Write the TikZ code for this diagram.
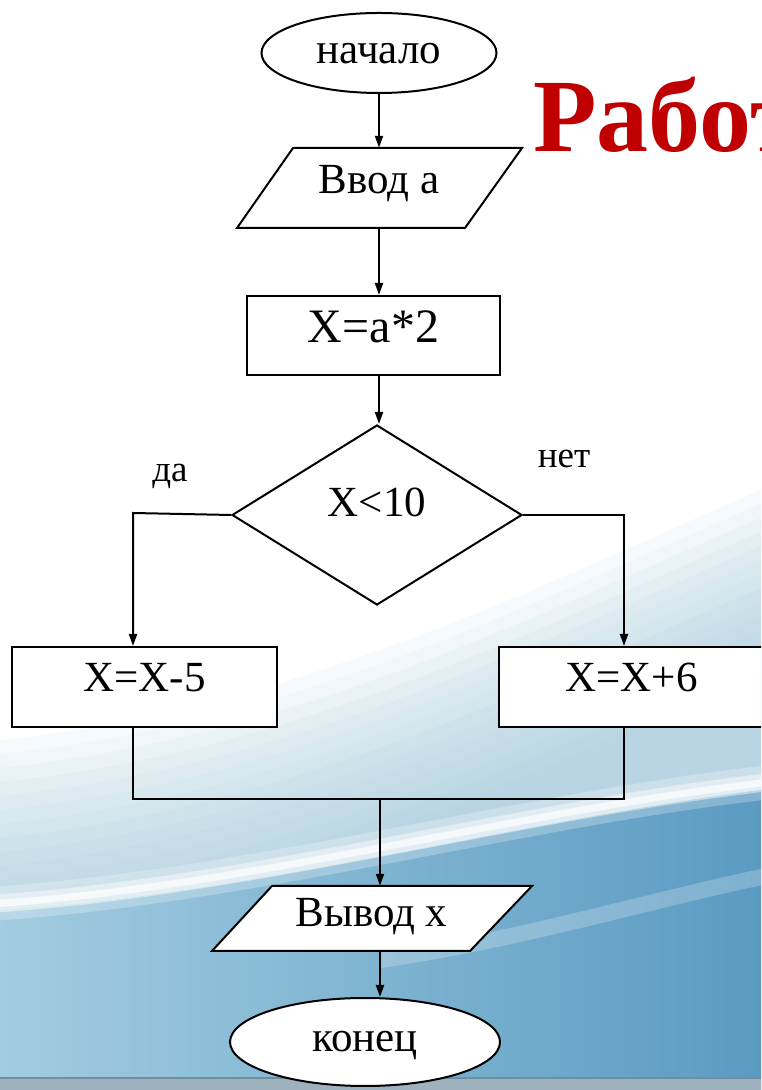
\documentclass[tikz,border=0pt]{standalone}
\usepackage{fontspec}
\setmainfont{Liberation Serif}
\usetikzlibrary{arrows.meta,shapes.geometric}
\definecolor{titlered}{HTML}{C00000}
\definecolor{midblue}{HTML}{9CC6DB}
\definecolor{lblue}{HTML}{A2CCE0}
\definecolor{dblue}{HTML}{5B9BC2}
\definecolor{bandgrey}{HTML}{9DB2BD}
\definecolor{bandline}{HTML}{6F8FA0}
\tikzset{
  line/.style={line width=2pt, draw=black},
  arr/.style={line, -{Triangle[length=12pt,width=8pt]}},
  basel/.style={text height=#1, text depth=0pt},
  txt/.style={font=\fontsize{43}{50}\selectfont, inner sep=0pt},
  rbox/.style={txt, rectangle, draw=black, line width=2pt, fill=white},
  oval/.style={txt, ellipse, draw=black, line width=2pt, fill=white},
  rhomb/.style={txt, diamond, draw=black, line width=2pt, fill=white},
  ghost/.style={txt, rectangle, draw=none, minimum width=200pt},
  para/.style={draw=black, line width=2pt, fill=white, line join=miter},
  lbl/.style={font=\fontsize{37}{44}\selectfont, inner sep=0pt, anchor=base},
}
\begin{document}
\begin{tikzpicture}[x=1pt,y=1pt]
\useasboundingbox (0,0) rectangle (761,1090);
\begin{scope}
\clip (0,0) rectangle (761,1090);
% background
\fill[white] (0,0) rectangle (761,1090);
\foreach \i in {0,...,13}{
  \fill[midblue, opacity=0.075]
    (0,350-\i*14) .. controls (300,380-\i*14) and (550,510-\i*14) .. (761,600-\i*14)
    -- (761,0) -- (0,0) -- cycle;
}
\shade[left color=lblue, right color=dblue]
  (0,180) .. controls (250,195) and (520,270) .. (761,300) -- (761,0) -- (0,0) -- cycle;
\draw[white, line width=34pt, opacity=0.25] (-10,186) .. controls (250,203) and (520,280) .. (771,308);
\draw[white, line width=18pt, opacity=0.45] (-10,186) .. controls (250,203) and (520,280) .. (771,308);
\draw[white, line width=7pt, opacity=0.7] (-10,186) .. controls (250,203) and (520,280) .. (771,308);
\draw[white, line width=16pt, opacity=0.22] (380,130) .. controls (520,150) and (650,190) .. (771,215);
\fill[bandgrey] (0,0) rectangle (761,12);
\draw[bandline, line width=2pt] (0,12) -- (761,12);

% title
\node[anchor=base west, inner sep=0pt, text=titlered,
      font=\fontsize{104}{110}\selectfont\bfseries] (title) at (533,938) {Работ};

% shapes drawn as paths
\draw[para] (293,942) -- (522,942) -- (465,862) -- (237,862) -- cycle;
\draw[para] (272,204) -- (532,204) -- (470,139) -- (212,139) -- cycle;

% nodes
\node[oval, minimum width=235pt, minimum height=80pt, basel=22pt] (start) at (379,1037) {начало};
\node[ghost, minimum height=80pt, basel=12pt] (in) at (379,902) {Ввод а};
\node[rbox, minimum width=253pt, minimum height=79pt, basel=14.5pt,
      font=\fontsize{48}{56}\selectfont] (calc) at (373.5,754.5) {X=a*2};
\node[rhomb, minimum width=290pt, minimum height=180pt, basel=4pt] (dec) at (377,575) {X<10};
\node[rbox, minimum width=265pt, minimum height=80pt, basel=10pt] (lft) at (144.5,403) {X=X-5};
\node[rbox, minimum width=265pt, minimum height=80pt, basel=10pt] (rgt) at (631.5,403) {X=X+6};
\node[ghost, minimum height=65pt, basel=16.5pt] (out) at (371.5,171.5) {Вывод х};
\node[oval, minimum width=270pt, minimum height=88pt, basel=20pt] (end) at (365,48) {конец};

\node[lbl] (yes) at (170,608) {да};
\node[lbl] (no) at (564,622) {нет};

\coordinate (lc) at (133,577);
\coordinate (rc) at (624,575);
\coordinate (m) at (380,291);

% connectors
\draw[arr] (start) -- (in);
\draw[arr] (in.south) -- (in.south |- calc.north);
\draw[arr] (calc.south -| in.south) -- (in.south |- dec.north);
\draw[arr] (dec.west) -- (lc) -- (lc |- lft.north);
\draw[arr] (dec.east) -- (rc) -- (rc |- rgt.north);
\draw[line] (lc |- lft.south) -- (lc |- m) -- (rc |- m) -- (rc |- rgt.south);
\draw[arr] (m) -- (m |- out.north);
\draw[arr] (m |- out.south) -- (m |- end.north);
\end{scope}
\end{tikzpicture}
\end{document}
